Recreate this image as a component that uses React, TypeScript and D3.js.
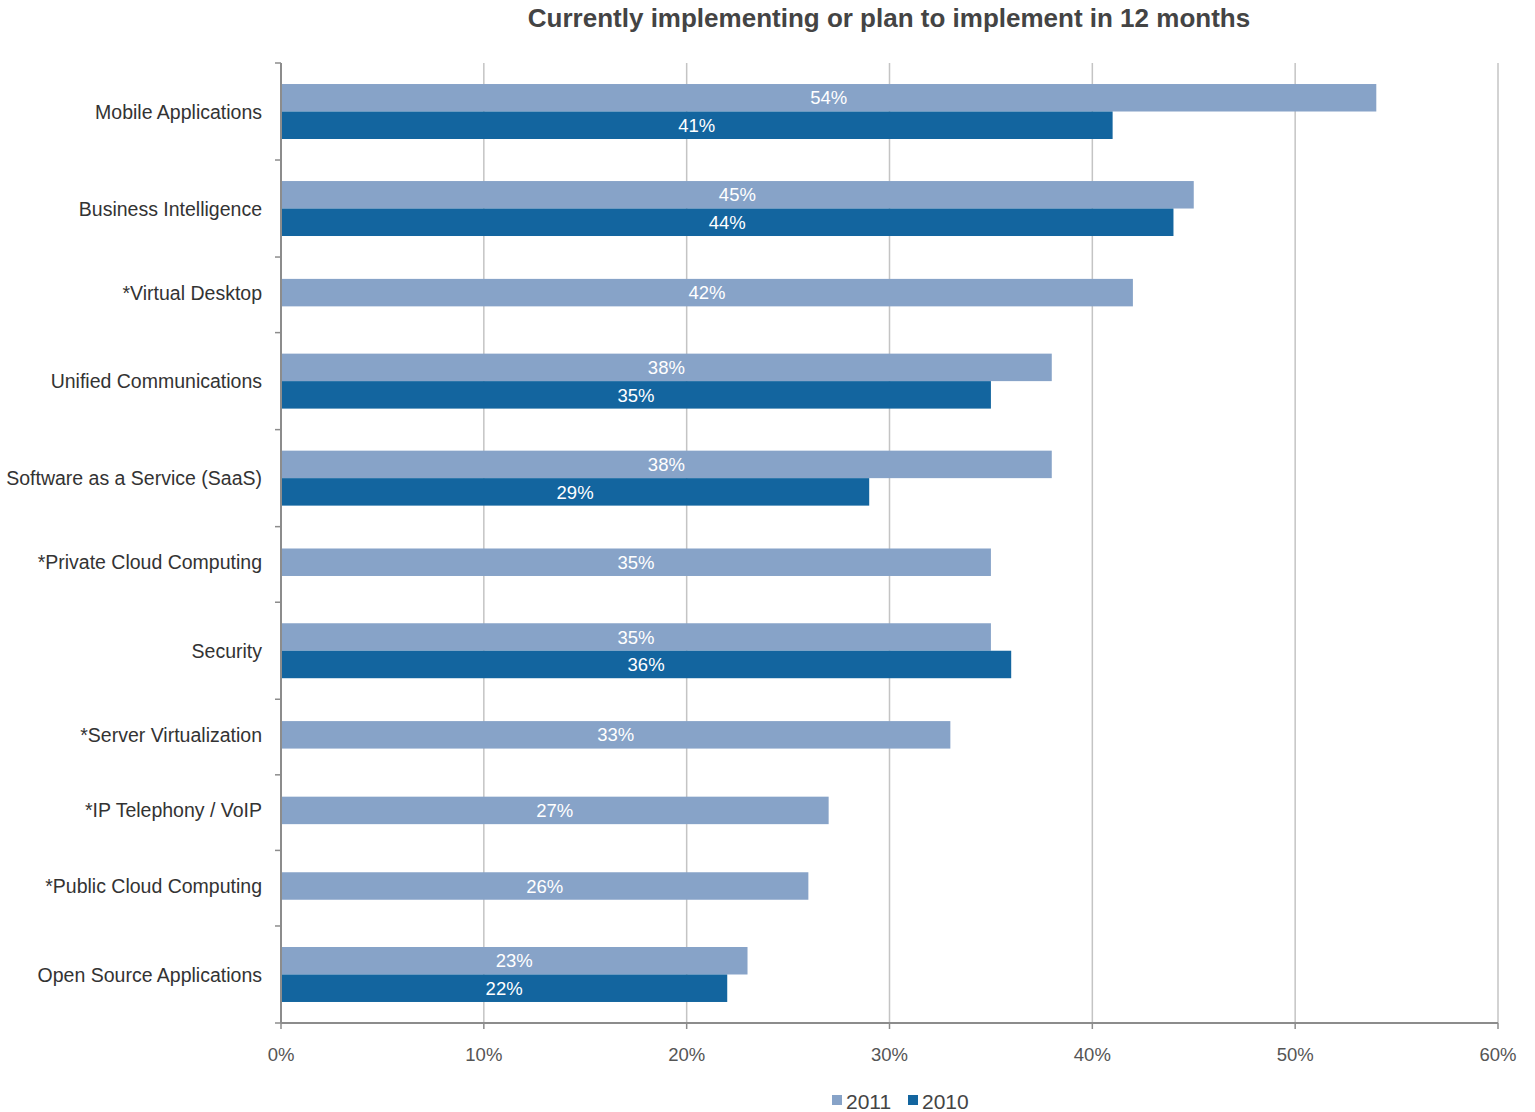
import React from "react";
import * as d3 from "d3";

const categories = [
  "Mobile Applications",
  "Business Intelligence",
  "*Virtual Desktop",
  "Unified Communications",
  "Software as a Service (SaaS)",
  "*Private Cloud Computing",
  "Security",
  "*Server Virtualization",
  "*IP Telephony / VoIP",
  "*Public Cloud Computing",
  "Open Source Applications",
];
const values2011: number[] = [54, 45, 42, 38, 38, 35, 35, 33, 27, 26, 23];
const values2010: (number | null)[] = [41, 44, null, 35, 29, null, 36, null, null, null, 22];
const xTicks = [0, 10, 20, 30, 40, 50, 60];
const seriesNames = ["2011", "2010"];
const seriesColors = ["#87a3c8", "#13659f"];

const W = 1535;
const H = 1112;
const left = 281;
const right = 1498;
const top = 63;
const bottom = 1023;
const FONT = "'Liberation Sans', Arial, Helvetica, sans-serif";

export default function App() {
  const x = d3.scaleLinear().domain([0, 60]).range([left, right]);
  const counts = categories.map((_, i) => (values2010[i] == null ? 1 : 2));
  const units = counts.map((n) => (n === 2 ? 3.53 : 2.75));
  const offsets = [0, ...Array.from(d3.cumsum(units))];
  const total = offsets[offsets.length - 1];
  const y = d3.scaleLinear().domain([0, total]).range([top, bottom]);

  const bars: any[] = [];
  const labels: any[] = [];
  categories.forEach((cat, i) => {
    const n = counts[i];
    const start = offsets[i] + (units[i] - n) / 2 - (n === 1 ? 0.08 : 0);
    const series = values2010[i] == null ? [0] : [0, 1];
    series.forEach((s, k) => {
      const v = s === 0 ? values2011[i] : (values2010[i] as number);
      const y0 = y(start + k);
      const y1 = y(start + k + 1);
      bars.push(
        <rect key={`b${i}-${s}`} x={x(0)} y={y0} width={x(v) - x(0)} height={y1 - y0} fill={seriesColors[s]} />
      );
      labels.push(
        <text key={`l${i}-${s}`} x={x(v / 2)} y={(y0 + y1) / 2} dy="0.36em" textAnchor="middle" fill="#ffffff" fontSize={18.5} fontFamily={FONT}>
          {`${v}%`}
        </text>
      );
    });
    labels.push(
      <text key={`c${i}`} x={262} y={y(start + n / 2)} dy="0.36em" textAnchor="end" fill="#333333" fontSize={19.5} fontFamily={FONT}>
        {cat}
      </text>
    );
  });

  return (
    <svg width={W} height={H} style={{ position: "absolute", left: 0, top: 0, background: "#fff" }}>
      <rect x={0} y={0} width={W} height={H} fill="#ffffff" />
      <text x={889} y={18} dy="0.36em" textAnchor="middle" fontSize={26} fontWeight="bold" fill="#444444" fontFamily={FONT}>
        Currently implementing or plan to implement in 12 months
      </text>
      {xTicks.slice(1).map((t) => (
        <line key={`g${t}`} x1={x(t)} x2={x(t)} y1={top} y2={bottom} stroke="#c4c4c4" strokeWidth={1.5} />
      ))}
      {bars}
      <line x1={left} x2={left} y1={top} y2={bottom} stroke="#8c8c8c" strokeWidth={2} />
      {offsets.map((o, i) => (
        <line key={`yt${i}`} x1={left - 6} x2={left} y1={y(o)} y2={y(o)} stroke="#8c8c8c" strokeWidth={1.5} />
      ))}
      <line x1={left} x2={right} y1={bottom} y2={bottom} stroke="#8c8c8c" strokeWidth={2} />
      {xTicks.map((t) => (
        <g key={`xt${t}`}>
          <line x1={x(t)} x2={x(t)} y1={bottom} y2={bottom + 6} stroke="#8c8c8c" strokeWidth={1.5} />
          <text x={x(t)} y={1054} dy="0.36em" textAnchor="middle" fill="#555555" fontSize={18.5} fontFamily={FONT}>
            {`${t}%`}
          </text>
        </g>
      ))}
      {labels}
      <g>
        <rect x={832} y={1095} width={10} height={10} fill={seriesColors[0]} />
        <text x={846} y={1101} dy="0.36em" fill="#444444" fontSize={21} fontFamily={FONT}>
          {seriesNames[0]}
        </text>
        <rect x={908} y={1095} width={10} height={10} fill={seriesColors[1]} />
        <text x={922} y={1101} dy="0.36em" fill="#444444" fontSize={21} fontFamily={FONT}>
          {seriesNames[1]}
        </text>
      </g>
    </svg>
  );
}
